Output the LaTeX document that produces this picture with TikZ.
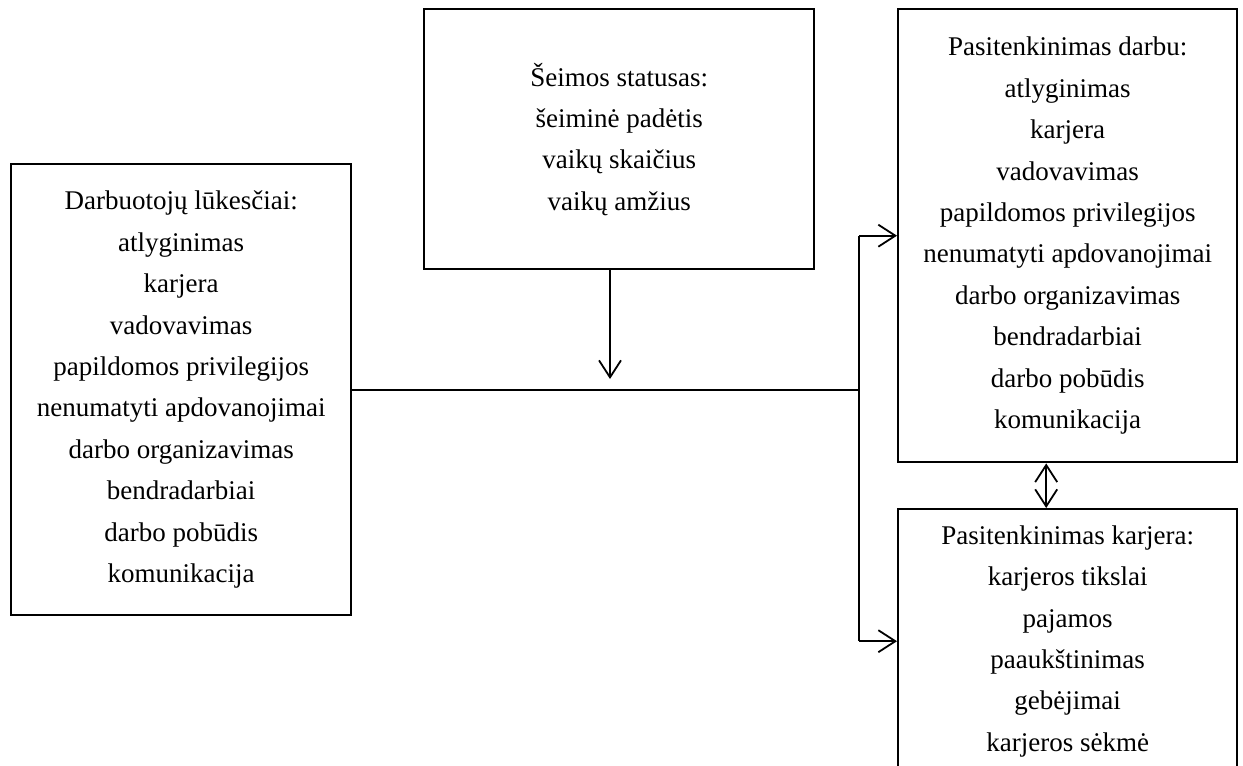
\documentclass[tikz,border=0pt]{standalone}
\usepackage{fontspec}
\setmainfont{Liberation Serif}
\usetikzlibrary{arrows.meta}
\begin{document}
\begin{tikzpicture}[x=0.5pt, y=-0.5pt,
  box/.style={draw, line width=1.2pt, anchor=north west, inner sep=0pt,
    align=center, font=\fontsize{13.5}{20.7}\selectfont},
  barb/.tip={Straight Barb[length=8.5pt, width=11pt, line width=0.9pt]},
  arr/.style={line width=0.9pt, -barb}]
\useasboundingbox (0,0) rectangle (1243,766);
% boxes
\node [box, minimum width=170pt, minimum height=225.5pt] (lukesciai) at (10,163)
  {Darbuotojų lūkesčiai:\\ atlyginimas\\ karjera\\ vadovavimas\\ papildomos privilegijos\\
   nenumatyti apdovanojimai\\ darbo organizavimas\\ bendradarbiai\\ darbo pobūdis\\ komunikacija};
\node [box, minimum width=195pt, minimum height=130pt] (seima) at (423,8)
  {Šeimos statusas:\\ šeiminė padėtis\\ vaikų skaičius\\ vaikų amžius};
\node [box, minimum width=169.5pt, minimum height=226.5pt] (darbu) at (897,8)
  {Pasitenkinimas darbu:\\ atlyginimas\\ karjera\\ vadovavimas\\ papildomos privilegijos\\
   nenumatyti apdovanojimai\\ darbo organizavimas\\ bendradarbiai\\ darbo pobūdis\\ komunikacija};
\node [box, minimum width=169.5pt, minimum height=132pt] (karjera) at (897,508)
  {Pasitenkinimas karjera:\\ karjeros tikslai\\ pajamos\\ paaukštinimas\\ gebėjimai\\ karjeros sėkmė};
% connectors
\coordinate (j) at (859,388);
\coordinate (s) at (610,379);
\draw [line width=0.9pt] (lukesciai.east) -- (lukesciai.east -| j);
\draw [line width=0.9pt] (darbu.west -| j) -- (karjera.west -| j);
\draw [arr] (darbu.west -| j) -- (darbu.west);
\draw [arr] (karjera.west -| j) -- (karjera.west);
\draw [arr] (seima.south -| s) -- (s);
\draw [line width=0.9pt, barb-barb] ([xshift=-10.75pt]darbu.south) -- ([xshift=-10.75pt]karjera.north);
\end{tikzpicture}
\end{document}
